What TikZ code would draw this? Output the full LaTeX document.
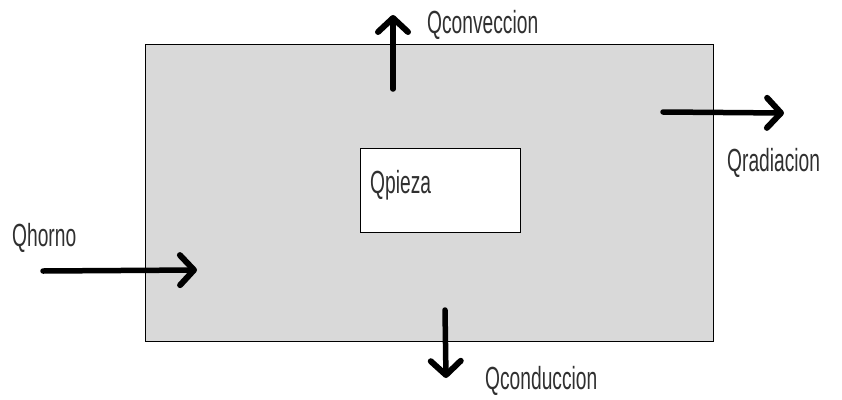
\documentclass[tikz,border=0pt]{standalone}
\usepackage{fontspec}
\setmainfont[FakeStretch=0.6]{Liberation Sans}
\usetikzlibrary{arrows.meta}
\definecolor{boxgray}{HTML}{D9D9D9}
\definecolor{txt}{HTML}{303030}
\begin{document}
\begin{tikzpicture}[x=1pt,y=-1pt,
  lbl/.style={anchor=west,inner sep=0pt,text=txt,font=\fontsize{32}{32}\selectfont},
  flow/.style={line width=5.5pt,line cap=round,-{Straight Barb[length=14pt,width=30pt,line width=6pt,round]}},
  frame/.style={draw=black,line width=1pt}]
\useasboundingbox (0,0) rectangle (842,399);
\node[frame,fill=boxgray,minimum width=568,minimum height=297,inner sep=0pt,anchor=north west] (outer) at (145,44) {};
\node[frame,fill=white,minimum width=160,minimum height=84,inner sep=0pt,anchor=north west] (inner) at (360,148) {};
\node[lbl] (qpieza) at (370,185) {Qpieza};
% arrows
\coordinate (c1) at (393,89);
\coordinate (c2) at (393,15);
\draw[flow] (c1) -- (c2);
\node[lbl] (qconv) at (427,25) {Qconveccion};
\coordinate (r1) at (663,112);
\coordinate (r2) at (784,113);
\draw[flow] (r1) -- (r2);
\node[lbl] (qrad) at (727,163) {Qradiacion};
\coordinate (h1) at (43,271);
\coordinate (h2) at (197,270);
\draw[flow] (h1) -- (h2);
\node[lbl] (qhorno) at (12,238) {Qhorno};
\coordinate (d1) at (445,310);
\coordinate (d2) at (446,378);
\draw[flow] (d1) -- (d2);
\node[lbl] (qcond) at (485,381) {Qconduccion};
\end{tikzpicture}
\end{document}
